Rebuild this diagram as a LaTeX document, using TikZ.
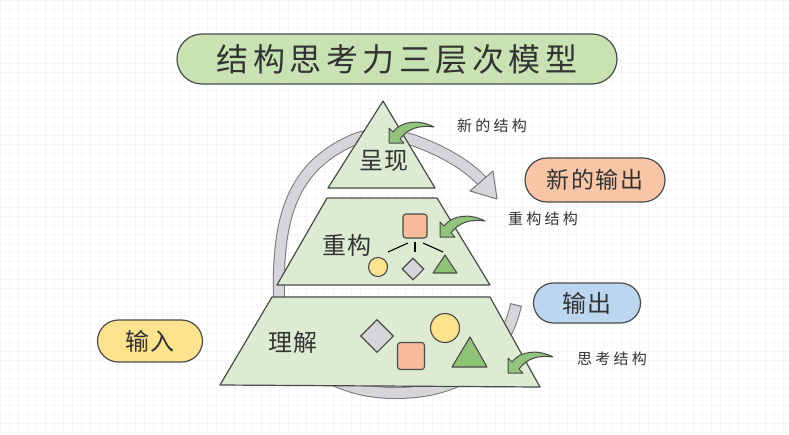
\documentclass[tikz,border=0pt]{standalone}
\usepackage{fontspec}
\newfontfamily\cjkT[LetterSpace=14]{Noto Sans CJK SC}
\newfontfamily\cjkL[LetterSpace=8]{Noto Sans CJK SC}
\newfontfamily\cjkS[LetterSpace=22]{Noto Sans CJK SC}
\usetikzlibrary{shapes.geometric}
\definecolor{stroke}{HTML}{4A4A4A}
\definecolor{txt}{HTML}{333333}
\definecolor{gridc}{HTML}{F5F5F5}
\definecolor{pyrfill}{HTML}{DCEBD2}
\definecolor{titlefill}{HTML}{C8E2B3}
\definecolor{orangebox}{HTML}{F8C6A6}
\definecolor{orangesq}{HTML}{F6BB9A}
\definecolor{bluebox}{HTML}{BCD6F0}
\definecolor{yellowbox}{HTML}{FDE38E}
\definecolor{graydia}{HTML}{D5D5DA}
\definecolor{greentri}{HTML}{8FC375}
\definecolor{greenarr}{HTML}{93C47D}
\definecolor{bandfill}{HTML}{D6D6DA}
\definecolor{bandline}{HTML}{777777}
\tikzset{
  layer/.style={fill=pyrfill, draw=stroke, line width=1.2pt, line join=round},
  pill/.style={draw=stroke, line width=1.2pt, text=txt, inner sep=0pt},
  sqbox/.style={rectangle, rounded corners=3pt, fill=orangesq, draw=stroke, line width=1.1pt, inner sep=0pt},
  circbox/.style={circle, fill=yellowbox, draw=stroke, line width=1.1pt, inner sep=0pt},
  diabox/.style={diamond, aspect=1, fill=graydia, draw=stroke, line width=1.1pt, inner sep=0pt},
  tri/.style={fill=greentri, draw=stroke, line width=1.1pt, line join=round},
  bigtext/.style={text=txt, inner sep=0pt, font=\cjkL\fontsize{24}{28}\selectfont},
  smalltext/.style={text=txt, inner sep=0pt, font=\cjkS\fontsize{15}{18}\selectfont},
  garrow/.pic={
    \filldraw[fill=greenarr, draw=stroke, line width=1pt, line join=round]
      (0,15) -- (0,0) -- (4,4) .. controls (12,-7) and (30,-9) .. (45,-1)
      .. controls (31,-3) and (19,0) .. (11,11) -- (15,15) -- cycle;
  }
}
\begin{document}
\begin{tikzpicture}[x=1pt,y=-1pt]
\useasboundingbox (0,0) rectangle (789,434);
\fill[white] (0,0) rectangle (789,434);
\draw[gridc, line width=0.3pt] (0,0) grid[step=9pt] (789,434);

% gray loop band (behind the pyramid)
\draw[draw=bandline, line width=1pt, double=bandfill, double distance=10pt]
  (516,305) .. controls (500,372) and (450,393) .. (395,393)
  .. controls (330,393) and (280,355) .. (279,300)
  .. controls (277,220) and (290,165) .. (358,138)
  .. controls (375,133) and (398,134) .. (418,142)
  .. controls (445,152) and (468,166) .. (482,181);
\draw[bandline, line width=1pt] (510,303.5) -- (522,306.5);
\filldraw[fill=bandfill, draw=bandline, line width=1pt, line join=round]
  (470,191) -- (493,171) -- (497,199) -- cycle;

% pyramid layers
\filldraw[layer] (383,101) -- (435,188) -- (328,188) -- cycle;
\filldraw[layer] (327,198) -- (437,198) -- (490,285) -- (277,285) -- cycle;
\filldraw[layer] (272,297) -- (490,297) -- (540,387) -- (220,385) -- cycle;

% title
\node[pill, fill=titlefill, minimum width=440pt, minimum height=50pt, rounded corners=25pt,
      font=\cjkT\fontsize{32}{36}\selectfont] (title) at (397,59) {结构思考力三层次模型};

% layer labels
\node[bigtext] (l1) at (384,161) {呈现};
\node[bigtext] (l2) at (347,245) {重构};
\node[bigtext] (l3) at (293,342) {理解};

% middle layer shapes
\node[sqbox, minimum size=24pt] (sq1) at (415,226) {};
\coordinate (h1) at (408,243); \coordinate (e1) at (388,252);
\coordinate (h2) at (415,242); \coordinate (e2) at (415,252);
\coordinate (h3) at (423,243); \coordinate (e3) at (443,252);
\draw[stroke, line width=1.1pt] (h1) -- (e1);
\draw[stroke, line width=1.1pt] (h2) -- (e2);
\draw[stroke, line width=1.1pt] (h3) -- (e3);
\node[circbox, minimum size=19pt] (c1) at (378,267) {};
\node[diabox, minimum size=22pt] (d1) at (413,269) {};
\filldraw[tri] (445,255) -- (457,273) -- (433,273) -- cycle;

% bottom layer shapes
\node[diabox, minimum size=33pt] (d2) at (377,336) {};
\node[sqbox, minimum size=27pt] (sq2) at (411,356) {};
\node[circbox, minimum size=29pt] (c2) at (445,328) {};
\filldraw[tri] (470,337) -- (487,367) -- (452,367) -- cycle;

% green curved arrows
\pic at (389,128) {garrow};
\pic at (440,222) {garrow};
\pic at (508,358) {garrow};

% side labels
\node[smalltext] (s1) at (492,126) {新的结构};
\node[smalltext] (s2) at (543,219) {重构结构};
\node[smalltext] (s3) at (612,359) {思考结构};

% pills
\node[pill, fill=orangebox, minimum width=140pt, minimum height=44pt, rounded corners=22pt,
      font=\cjkL\fontsize{23}{26}\selectfont] (newout) at (595,180) {新的输出};
\node[pill, fill=bluebox, minimum width=107pt, minimum height=40pt, rounded corners=20pt,
      font=\cjkL\fontsize{24}{28}\selectfont] (out) at (587,303) {输出};
\node[pill, fill=yellowbox, minimum width=105pt, minimum height=42pt, rounded corners=21pt,
      font=\cjkL\fontsize{24}{28}\selectfont] (in) at (150,341) {输入};
\end{tikzpicture}
\end{document}
